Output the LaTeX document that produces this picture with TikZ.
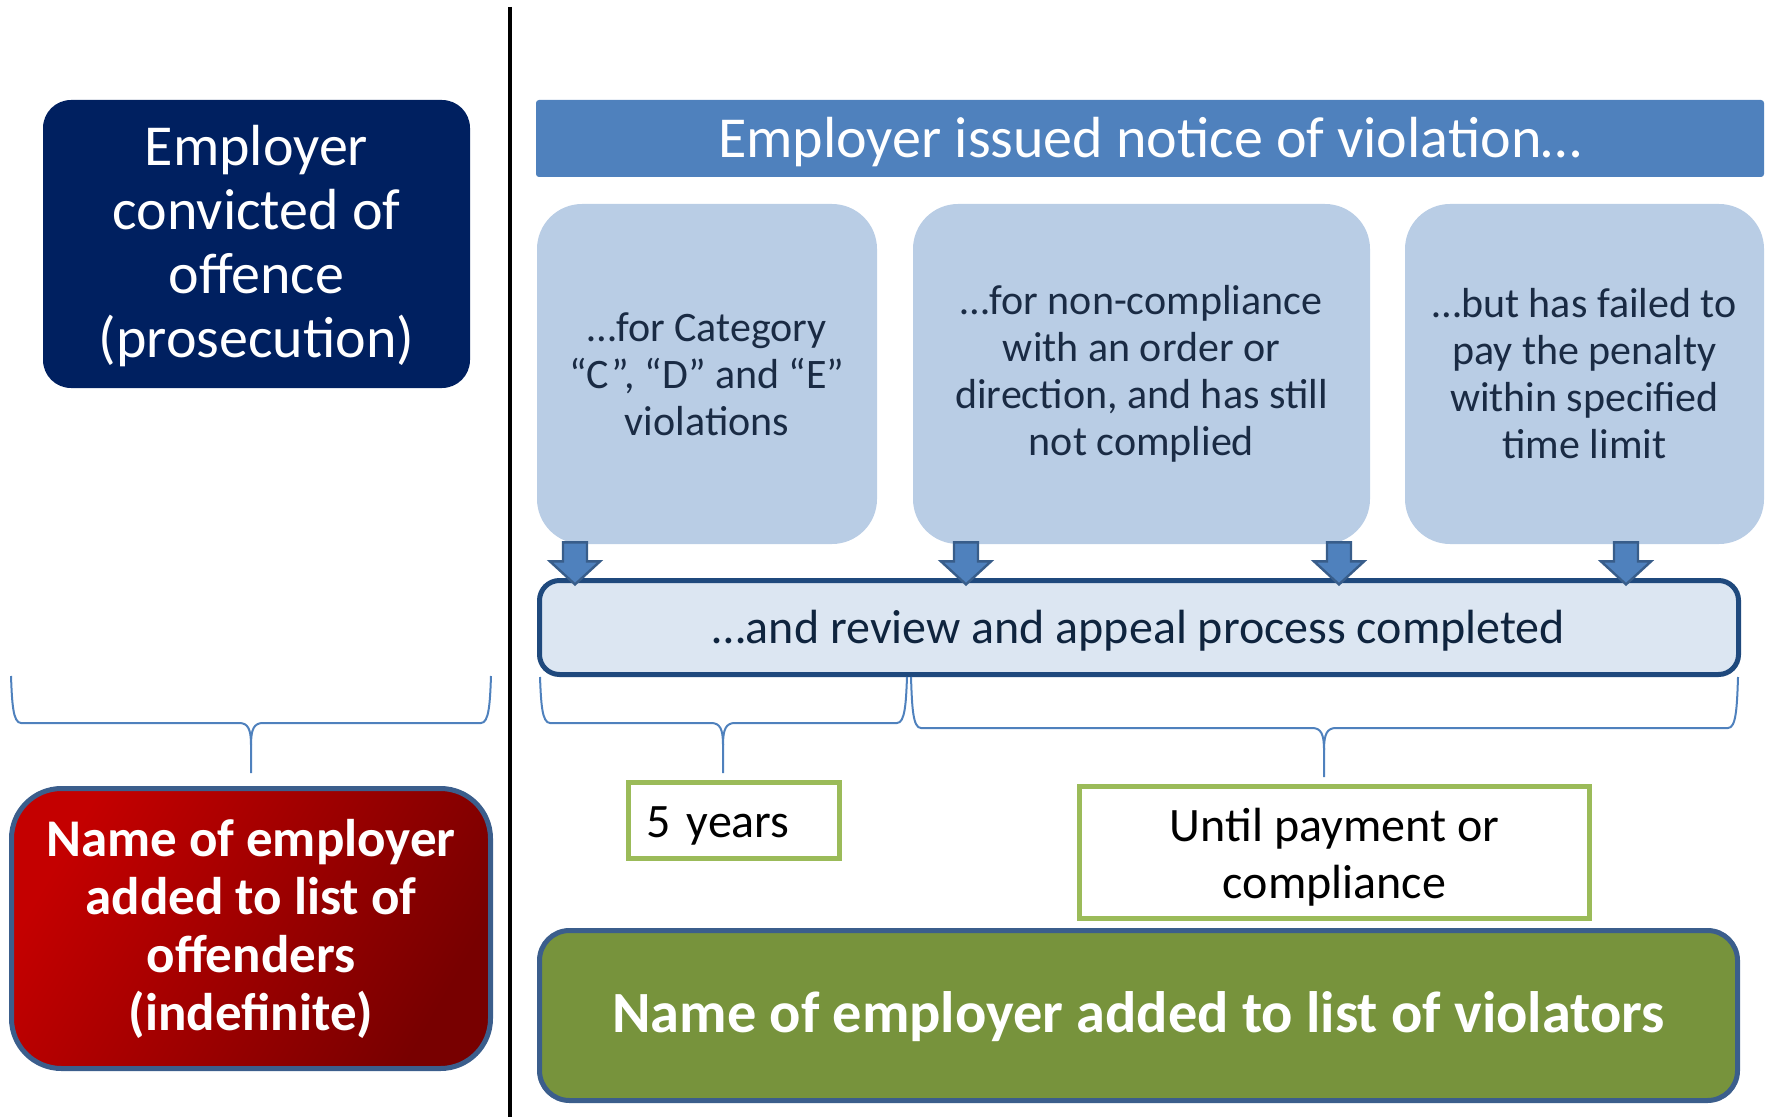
\documentclass[tikz,border=0pt]{standalone}
\usepackage{fontspec}
\setmainfont{Carlito}
\usetikzlibrary{calc}

\definecolor{navy}{HTML}{002060}
\definecolor{barblue}{HTML}{4F81BD}
\definecolor{paleblue}{HTML}{B9CDE5}
\definecolor{reviewfill}{HTML}{DCE6F2}
\definecolor{reviewline}{HTML}{1F497D}
\definecolor{arrowline}{HTML}{385D8A}
\definecolor{darktext}{HTML}{1A2B44}
\definecolor{reviewtext}{HTML}{0F243E}
\definecolor{limegreen}{HTML}{9BBB59}
\definecolor{olive}{HTML}{77933C}
\definecolor{frameblue}{HTML}{3B5E8C}
\definecolor{redlight}{HTML}{C40000}
\definecolor{reddark}{HTML}{780000}

\newcommand\fs[2]{\fontsize{#1}{#2}\selectfont}

% horizontal curly brace opening upward: left x, right x, top y, bar y, tip x, tip y
\newcommand\hbrace[6]{%
  \draw[bracestyle] (#1,#3) .. controls (#1+1,#4-20) and (#1+2,#4) .. (#1+10,#4)
     -- (#5-12,#4) .. controls (#5-3,#4) and (#5,#4+6) .. (#5,#4+22) -- (#5,#6);
  \draw[bracestyle] (#2,#3) .. controls (#2-1,#4-20) and (#2-2,#4) .. (#2-10,#4)
     -- (#5+12,#4) .. controls (#5+3,#4) and (#5,#4+6) .. (#5,#4+22);
}

\tikzset{
  plain/.style={inner sep=0pt, align=center},
  oneline/.style={text height=#1, text depth=0pt},
  topbox/.style={plain, fill=navy, rounded corners=14pt},
  headbar/.style={plain, fill=barblue, text=white, rounded corners=1.5pt,
    font=\fs{29}{32}},
  casebox/.style={plain, fill=paleblue, text=darktext, rounded corners=22.5pt,
    minimum height=170pt, font=\fs{21}{23.5}},
  reviewbox/.style={plain, fill=reviewfill, draw=reviewline, line width=2.5pt,
    rounded corners=10pt, text=reviewtext, font=\fs{24}{28}},
  periodbox/.style={plain, draw=limegreen, line width=2.5pt, fill=white,
    text=black, font=\fs{24}{28.5}},
  listbox/.style={plain, draw=frameblue, line width=2.5pt, text=white,
    font=\bfseries\fs{29.2}{32}},
  blockarrow/.style={fill=barblue, draw=arrowline, line width=1.2pt,
    line join=miter},
  bracestyle/.style={draw=barblue, line width=1pt},
}

\begin{document}
\begin{tikzpicture}[x=0.5pt, y=-0.5pt]
  \useasboundingbox (0,0) rectangle (1770,1117);

  % divider between the two routes
  \draw[line width=2.25pt] (510,7) -- (510,1117);

  % left column: prosecution
  \node[topbox, minimum width=213.5pt, minimum height=144pt,
        label={[plain, text=white, font=\fs{29}{32}, yshift=-1.1pt]center:%
          {Employer\\convicted of\\offence\\(prosecution)}}] (convicted)
    at (256.5,244) {};

  \node[listbox, rounded corners=25pt, minimum width=239.5pt, minimum height=140pt,
        left color=redlight, right color=reddark, shading angle=60,
        font=\bfseries\fs{26.5}{29}] (offenders)
    at (251,928.5) {Name of employer\\added to list of\\offenders\\(indefinite)};

  % right column: notice of violation
  \node[headbar, oneline=18.8pt, minimum width=614pt, minimum height=38.5pt] (notice)
    at (1150,138.5) {Employer issued notice of violation…};

  \node[casebox, minimum width=170pt] (case1) at (707,374)
    {…for Category\\“C”, “D” and “E”\\violations};
  \node[casebox, minimum width=228.5pt] (case2) at (1141.5,374)
    {…for non-compliance\\with an order or\\direction, and has still\\not complied};
  \node[casebox, minimum width=179.5pt] (case3) at (1584.5,374)
    {…but has failed to\\pay the penalty\\within specified\\time limit};

  \node[reviewbox, oneline=15.5pt, minimum width=599.5pt, minimum height=47pt] (review)
    at (1139,627.5) {…and review and appeal process completed};

  % block arrows from the cases down to the review step
  \coordinate (a1) at ([xshift=-66pt,yshift=1pt]case1.south);
  \coordinate (a2) at ([xshift=-87.75pt,yshift=1pt]case2.south);
  \coordinate (a3) at ([xshift=98.75pt,yshift=1pt]case2.south);
  \coordinate (a4) at ([xshift=20.75pt,yshift=1pt]case3.south);
  \foreach \a in {a1,a2,a3,a4}
    \draw[blockarrow, shift={(\a)}] (-12,0) -- (12,0) -- (12,19) -- (25,19)
      -- (0,42) -- (-25,19) -- (-12,19) -- cycle;

  \node[periodbox, oneline=16.5pt, minimum width=105.5pt, minimum height=38pt,
        text width=87.5pt, align=left, inner xsep=9pt] (fiveyears)
    at (734,820.5) {5 years};
  \node[periodbox, minimum width=255pt, minimum height=66pt,
        label={[plain, font=\fs{24}{28.5}, yshift=-2.25pt]center:%
          {Until payment or\\compliance}}] (until)
    at (1334.5,852.5) {};

  \node[listbox, oneline=16.5pt, fill=olive, rounded corners=15pt, minimum width=599pt,
        minimum height=85pt] (violators)
    at (1138.5,1015.5) {Name of employer added to list of violators};

  % braces grouping the outcomes
  \hbrace{11}{491}{676}{723}{251}{773}
  \hbrace{540}{907}{677}{723}{723}{773}
  \hbrace{911}{1738}{677}{728}{1324}{777}
\end{tikzpicture}
\end{document}
